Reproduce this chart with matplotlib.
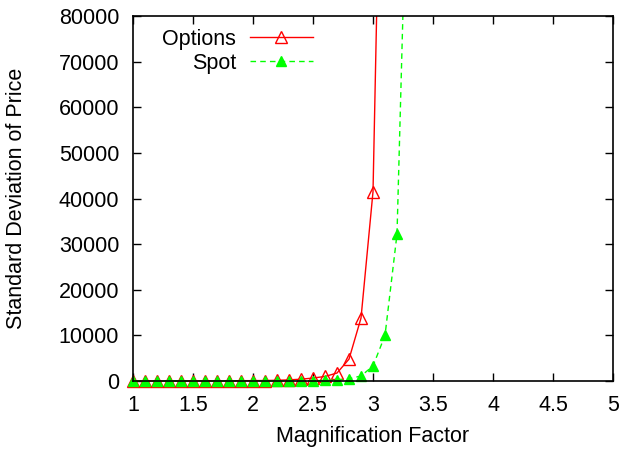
import matplotlib
matplotlib.use('Agg')
import matplotlib.pyplot as plt
from matplotlib.transforms import Bbox, TransformedBbox

plt.rcParams['font.family'] = ['Liberation Sans', 'DejaVu Sans']

# magnification factor
x_options = [1.0, 1.1, 1.2, 1.3, 1.4, 1.5, 1.6, 1.7, 1.8, 1.9, 2.0,
             2.1, 2.2, 2.3, 2.4, 2.5, 2.6, 2.7, 2.8, 2.9, 3.0, 3.1]
options = [10, 15, 20, 25, 30, 35, 40, 50, 60, 70, 85,
           110, 160, 250, 400, 650, 1000, 1750, 4800, 13800, 41500, 170000]

x_spot = [1.0, 1.1, 1.2, 1.3, 1.4, 1.5, 1.6, 1.7, 1.8, 1.9, 2.0,
          2.1, 2.2, 2.3, 2.4, 2.5, 2.6, 2.7, 2.8, 2.9, 3.0, 3.1, 3.2, 3.3]
spot = [5, 5, 5, 5, 5, 5, 5, 5, 5, 10, 10,
        15, 20, 30, 45, 70, 130, 250, 500, 1100, 3300, 10000, 32200, 130000]

fs = 15.5

fig = plt.figure(figsize=(6.19, 4.5), dpi=100)
ax = fig.add_axes([0.2149, 0.1533, 0.7754, 0.8111])

l1, = ax.plot(x_options, options, color='#ff0000', lw=1, marker='^', ms=8.5,
              mfc='none', mec='#ff0000', mew=1, label='Options')
l2, = ax.plot(x_spot, spot, color='#00ff00', lw=1, ls=(0, (4, 3)), marker='^',
              ms=7, mfc='#00ff00', mec='#00ff00', label='Spot')

# let markers on the bottom/left edge show fully, but clip at the top
clip = TransformedBbox(Bbox([[-0.05, -0.05], [1.0, 1.0]]), ax.transAxes)
for l in (l1, l2):
    l.set_clip_box(clip)

ax.set_xlim(1, 5)
ax.set_ylim(0, 80000)
ax.set_xticks([1, 1.5, 2, 2.5, 3, 3.5, 4, 4.5, 5])
ax.set_xticklabels(['1', '1.5', '2', '2.5', '3', '3.5', '4', '4.5', '5'])
ax.set_yticks(range(0, 80001, 10000))
ax.tick_params(direction='in', length=6, width=1, top=True, right=True,
               labelsize=fs, pad=10)
for s in ax.spines.values():
    s.set_linewidth(1.2)

ax.set_xlabel('Magnification Factor', fontsize=fs, va='center')
ax.xaxis.set_label_coords(0.5, -0.153)
ax.set_ylabel('Standard Deviation of Price', fontsize=fs, va='center')
ax.yaxis.set_label_coords(-0.243, 0.5)

ax.legend(loc='upper right', bbox_to_anchor=(313 / 619, 1 - 29 / 450),
          bbox_transform=fig.transFigure, frameon=False,
          markerfirst=False, numpoints=1, fontsize=fs, handlelength=2.93,
          handletextpad=0.65, labelspacing=0.12, borderaxespad=0, borderpad=0)

fig.savefig('out.png', dpi=100)
